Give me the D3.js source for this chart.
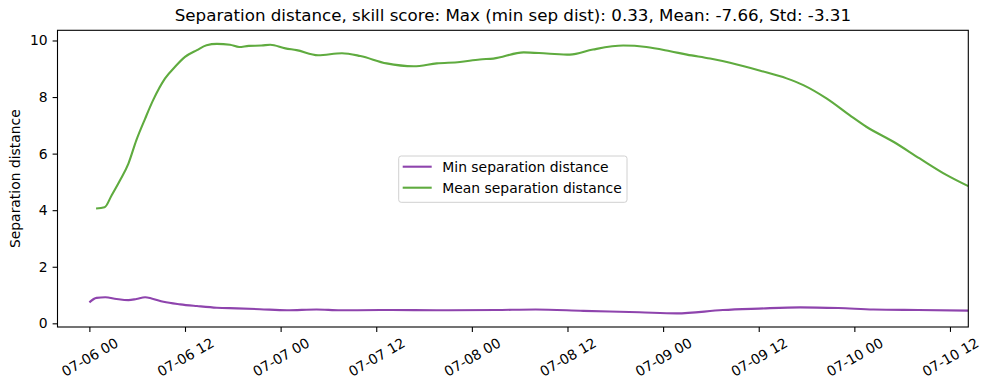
<!DOCTYPE html>
<html>
<head>
<meta charset="utf-8">
<script src="https://cdn.jsdelivr.net/npm/d3@7"></script>
<style>
  body { margin: 0; background: #fff; }
  text { font-family: "DejaVu Sans", sans-serif; fill: #000; }
</style>
</head>
<body>
<svg id="viz"></svg>
<script>
var width = 989;
var height = 390;

// data, hours after 07-06 00
var minHours = [0, 0.9, 2.0, 3.4, 4.9, 5.9, 7.0, 7.8, 9.3, 11.4, 13.5, 16, 18.5, 21.4, 24.8, 28.5, 31.5, 36.5, 45, 51, 56, 62, 69, 73.7, 79.5, 84, 89.2, 94, 98.4, 104, 110.3];
var minDist = [0.74, 0.90, 0.92, 0.86, 0.82, 0.86, 0.92, 0.88, 0.76, 0.67, 0.61, 0.55, 0.53, 0.50, 0.46, 0.49, 0.46, 0.47, 0.46, 0.47, 0.49, 0.44, 0.39, 0.35, 0.47, 0.52, 0.565, 0.54, 0.49, 0.47, 0.45];

var meanHours = [0.84, 1.9, 2.8, 3.85, 4.9, 5.9, 7.0, 8.0, 9.5, 10.75, 12.0, 13.5, 14.7, 16, 17.65, 18.8, 20, 21.6, 22.7, 24.6, 26, 28.7, 31.7, 34, 37.3, 40.7, 43.6, 46.5, 49, 50.7, 54.5, 57.4, 60.3, 63.2, 67, 69.9, 72.9, 75, 77.9, 80.4, 84.2, 87.5, 89.6, 92.5, 95.4, 97.5, 100.9, 104.2, 107.6, 110.3];
var meanDist = [4.06, 4.10, 4.53, 5.06, 5.65, 6.48, 7.24, 7.89, 8.66, 9.07, 9.42, 9.66, 9.83, 9.88, 9.85, 9.77, 9.81, 9.82, 9.85, 9.72, 9.66, 9.48, 9.55, 9.45, 9.19, 9.09, 9.19, 9.24, 9.33, 9.36, 9.58, 9.54, 9.50, 9.68, 9.82, 9.77, 9.62, 9.50, 9.36, 9.21, 8.93, 8.66, 8.42, 7.95, 7.36, 6.95, 6.42, 5.83, 5.24, 4.85];

var yTicks = [0, 2, 4, 6, 8, 10];
var titleText = "Separation distance, skill score: Max (min sep dist): 0.33, Mean: -7.66, Std: -3.31";
var seriesNames = ["Min separation distance", "Mean separation distance"];
var colors = ["#8e44ad", "#5fab3f"];

var start = Date.UTC(2021, 6, 6);
function toDate(h) { return new Date(start + h * 3600e3); }

var margin = {left: 57.5, right: 989 - 968.3, top: 30.3, bottom: 390 - 327};

var svg = d3.select("#viz")
    .attr("width", width)
    .attr("height", height);

var x = d3.scaleUtc()
    .domain([toDate(-4), toDate(110.3)])
    .range([margin.left, width - margin.right]);

var y = d3.scaleLinear()
    .domain([-0.13, 10.36])
    .range([height - margin.bottom, margin.top]);

var series = [
    {name: seriesNames[0], color: colors[0], pts: minHours.map(function (h, i) { return [toDate(h), minDist[i]]; })},
    {name: seriesNames[1], color: colors[1], pts: meanHours.map(function (h, i) { return [toDate(h), meanDist[i]]; })}
];

svg.append("clipPath").attr("id", "clip")
    .append("rect")
    .attr("x", margin.left).attr("y", margin.top)
    .attr("width", width - margin.left - margin.right)
    .attr("height", height - margin.top - margin.bottom);

var line = d3.line()
    .x(function (d) { return x(d[0]); })
    .y(function (d) { return y(d[1]); })
    .curve(d3.curveMonotoneX);

svg.append("g").attr("clip-path", "url(#clip)")
    .selectAll("path")
    .data(series)
    .enter().append("path")
    .attr("d", function (d) { return line(d.pts); })
    .attr("fill", "none")
    .attr("stroke", function (d) { return d.color; })
    .attr("stroke-width", 2.1);

//axes
var fmt = d3.utcFormat("%m-%d %H");
var xAxis = svg.append("g")
    .attr("transform", "translate(0," + (height - margin.bottom) + ")")
    .call(d3.axisBottom(x).ticks(d3.utcHour.every(12)).tickFormat(fmt).tickSizeOuter(0).tickSize(4.9).tickPadding(4.9));
xAxis.select(".domain").remove();
xAxis.selectAll("line").attr("stroke-width", 1.1);
xAxis.selectAll("text")
    .attr("font-size", "13.9px")
    .attr("text-anchor", "middle")
    .attr("dy", null)
    .attr("y", 0)
    .attr("dominant-baseline", "central")
    .attr("transform", "translate(0,30) rotate(-30)");

var yAxis = svg.append("g")
    .attr("transform", "translate(" + margin.left + ",0)")
    .call(d3.axisLeft(y).tickValues(yTicks).tickFormat(d3.format("d")).tickSize(4.9).tickPadding(4.9));
yAxis.select(".domain").remove();
yAxis.selectAll("line").attr("stroke-width", 1.1);
yAxis.selectAll("text").attr("font-size", "13.9px");

svg.append("rect")
    .attr("x", margin.left).attr("y", margin.top)
    .attr("width", width - margin.left - margin.right)
    .attr("height", height - margin.top - margin.bottom)
    .attr("fill", "none")
    .attr("stroke", "#000")
    .attr("stroke-width", 1.1);

svg.append("text")
    .attr("x", (margin.left + width - margin.right) / 2)
    .attr("y", 21)
    .attr("text-anchor", "middle")
    .attr("font-size", "16.7px")
    .text(titleText);

svg.append("text")
    .attr("transform", "translate(20," + ((margin.top + height - margin.bottom) / 2) + ") rotate(-90)")
    .attr("text-anchor", "middle")
    .attr("font-size", "13.9px")
    .text("Separation distance");

//legend
var legend = svg.append("g").attr("transform", "translate(398.7,156)");
legend.append("rect")
    .attr("width", 228.3).attr("height", 46.3)
    .attr("rx", 2.5)
    .attr("fill", "#fff").attr("fill-opacity", 0.8)
    .attr("stroke", "#d0d0d0").attr("stroke-width", 1);

var items = legend.selectAll("g.item")
    .data(series)
    .enter().append("g")
    .attr("transform", function (d, i) { return "translate(0," + (10.7 + i * 21) + ")"; });
items.append("line")
    .attr("x1", 4).attr("x2", 33)
    .attr("stroke", function (d) { return d.color; })
    .attr("stroke-width", 2.1);
items.append("text")
    .attr("x", 43.6)
    .attr("dominant-baseline", "central")
    .attr("font-size", "13.9px")
    .text(function (d) { return d.name; });
</script>
</body>
</html>
